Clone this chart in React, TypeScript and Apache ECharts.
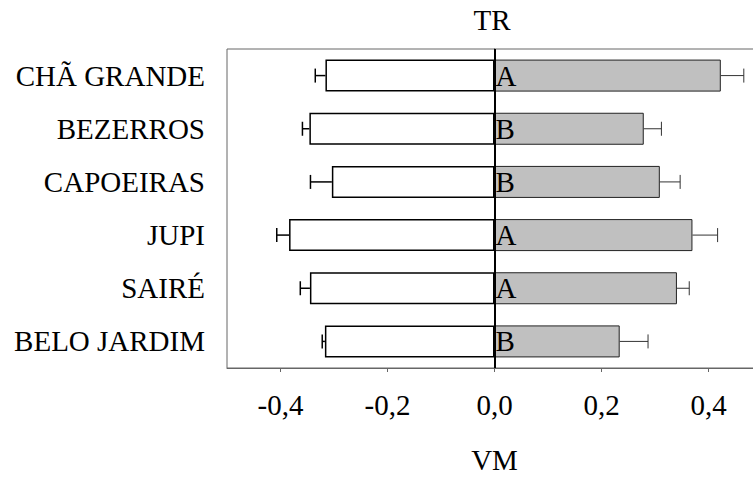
import React, { useEffect, useRef } from "react";
import * as echarts from "echarts";

const categories = ["CHÃ GRANDE", "BEZERROS", "CAPOEIRAS", "JUPI", "SAIRÉ", "BELO JARDIM"];
const negValues = [-0.316, -0.346, -0.304, -0.384, -0.345, -0.317];
const negErrEnds = [-0.335, -0.359, -0.344, -0.407, -0.363, -0.322];
const posValues = [0.423, 0.279, 0.309, 0.370, 0.341, 0.234];
const posErrEnds = [0.466, 0.312, 0.347, 0.417, 0.364, 0.287];
const letters = ["A", "B", "B", "A", "A", "B"];
const tickValues = [-0.4, -0.2, 0, 0.2, 0.4];

const FONT = "'Liberation Serif', 'Times New Roman', serif";
const FS = 29;

export default function App() {
  const ref = useRef<HTMLDivElement>(null);
  useEffect(() => {
    if (!ref.current) return;
    const chart = echarts.init(ref.current, undefined, { renderer: "svg" });
    const errData = (vals: number[], ends: number[]) =>
      vals.map((v, i) => [i, v, ends[i]]);
    const makeErr = (color: string, width: number) => (params: any, api: any) => {
      const idx = api.value(0);
      const start = api.coord([api.value(1), idx]);
      const end = api.coord([api.value(2), idx]);
      const h = 7;
      return {
        type: "group",
        children: [
          {
            type: "line",
            shape: { x1: start[0], y1: start[1], x2: end[0], y2: end[1] },
            style: { stroke: color, lineWidth: width },
          },
          {
            type: "line",
            shape: { x1: end[0], y1: end[1] - h, x2: end[0], y2: end[1] + h },
            style: { stroke: color, lineWidth: width },
          },
        ],
      };
    };
    chart.setOption({
      animation: false,
      backgroundColor: "#ffffff",
      grid: {
        left: 227,
        top: 49,
        width: 535,
        height: 319,
        outerBoundsMode: "none",
        containLabel: false,
        show: true,
        borderColor: "#666",
        borderWidth: 1,
        backgroundColor: "transparent",
      },
      graphic: [
        {
          type: "text",
          x: 492,
          y: 20,
          style: {
            text: "TR",
            font: `${FS}px ${FONT}`,
            fill: "#000",
            textAlign: "center",
            textVerticalAlign: "middle",
          },
        },
      ],
      xAxis: {
        type: "value",
        min: -0.5,
        max: 0.5,
        name: "VM",
        nameLocation: "middle",
        nameGap: 77,
        nameTextStyle: { fontFamily: FONT, fontSize: FS, color: "#000", padding: [0, 0, 0, 0] },
        axisLine: { show: true, onZero: false, lineStyle: { color: "#666", width: 1 } },
        axisTick: {
          show: true,
          customValues: tickValues,
          length: 4,
          lineStyle: { color: "#666" },
        },
        axisLabel: {
          customValues: tickValues,
          margin: 22,
          fontFamily: FONT,
          fontSize: FS,
          color: "#000",
          formatter: (v: number) => v.toFixed(1).replace(".", ","),
        },
        splitLine: { show: false },
      },
      yAxis: {
        type: "category",
        data: categories,
        inverse: true,
        axisLine: { show: true, lineStyle: { color: "#444", width: 1 } },
        axisTick: { show: true, alignWithLabel: true, length: 7, lineStyle: { color: "#444" } },
        axisLabel: { margin: 22, fontFamily: FONT, fontSize: FS, color: "#000" },
        splitLine: { show: false },
      },
      series: [
        {
          type: "bar",
          data: negValues,
          barWidth: 32,
          barGap: "-100%",
          itemStyle: { color: "#ffffff", borderColor: "#000", borderWidth: 1.5 },
          z: 2,
        },
        {
          type: "bar",
          data: posValues,
          barWidth: 32,
          itemStyle: { color: "#c0c0c0", borderColor: "#222", borderWidth: 1 },
          label: {
            show: true,
            position: "insideLeft",
            distance: 1,
            formatter: (p: any) => letters[p.dataIndex],
            fontFamily: FONT,
            fontSize: FS,
            color: "#000",
          },
          markLine: {
            silent: true,
            symbol: "none",
            label: { show: false },
            lineStyle: { color: "#000", width: 2, type: "solid" },
            data: [{ xAxis: 0 }],
          },
          z: 2,
        },
        {
          type: "custom",
          data: errData(negValues, negErrEnds),
          renderItem: makeErr("#000", 1.5),
          encode: { x: [1, 2], y: 0 },
          z: 3,
        },
        {
          type: "custom",
          data: errData(posValues, posErrEnds),
          renderItem: makeErr("#333", 1),
          encode: { x: [1, 2], y: 0 },
          z: 3,
        },
      ],
    });
    return () => chart.dispose();
  }, []);
  return (
    <div
      ref={ref}
      style={{ position: "fixed", left: 0, top: 0, width: 753, height: 478, background: "#fff" }}
    />
  );
}
